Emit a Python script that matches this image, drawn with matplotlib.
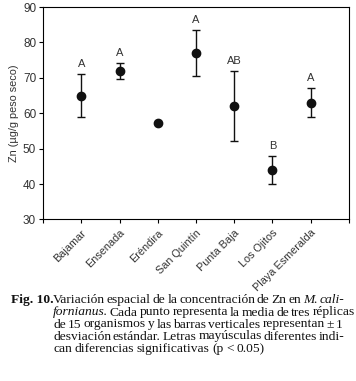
import matplotlib
matplotlib.use("Agg")
import matplotlib.pyplot as plt

sites = ["Bajamar", "Ensenada", "Eréndira", "San Quintín", "Punta Baja",
         "Los Ojitos", "Playa Esmeralda"]
zn_mean = [65.0, 72.0, 57.3, 77.0, 62.0, 44.0, 63.0]
zn_sd = [6.0, 2.2, 0.0, 6.5, 9.9, 4.0, 4.1]
letters = ["A", "A", "", "A", "AB", "B", "A"]

plt.rcParams["font.family"] = ["Liberation Sans", "DejaVu Sans"]

fig = plt.figure(figsize=(3.56, 3.81), dpi=100)
ax = fig.add_axes([0.121, 0.424, 0.859, 0.5575])

xs = list(range(1, len(sites) + 1))
ax.errorbar(xs, zn_mean, yerr=zn_sd, fmt="o", color="#111111", ms=6,
            capsize=3, elinewidth=1, capthick=1)
for x, m, s, lab in zip(xs, zn_mean, zn_sd, letters):
    if lab:
        ax.text(x, m + s + 1.4, lab, ha="center", va="bottom",
                fontsize=8, color="#333333")

ax.set_xlim(0, 8)
ax.set_ylim(30, 90)
ax.set_yticks(range(30, 91, 10))
ax.set_xticks(range(0, 9))
ax.set_xticklabels([""] + sites + [""], rotation=45, ha="right",
                   rotation_mode="anchor", fontsize=7.8, color="#333333")
ax.tick_params(axis="y", labelsize=8.5, labelcolor="#333333",
               length=3, width=0.8, pad=2)
ax.tick_params(axis="x", length=3, width=0.8, pad=3)
ax.set_ylabel("Zn (µg/g peso seco)", fontsize=7.8, color="#333333", labelpad=3)
for sp in ax.spines.values():
    sp.set_linewidth(0.8)

# caption, justified line by line
serif = "Liberation Serif"
cap_fs = 9.7
left_px, right_px = 53, 343
W, H = fig.get_size_inches() * fig.dpi
lines = [
    [("Variación espacial de la concentración de Zn en", "normal"),
     ("M. cali-", "italic")],
    [("fornianus.", "italic"),
     ("Cada punto representa la media de tres réplicas", "normal")],
    [("de 15 organismos y las barras verticales representan ± 1", "normal")],
    [("desviación estándar. Letras mayúsculas diferentes indi-", "normal")],
    [("can diferencias significativas (p < 0.05)", "normal")],
]
line_y = [300, 312.5, 324.5, 336.5, 349]

fig.text(11 / W, 1 - line_y[0] / H, "Fig. 10.", fontsize=cap_fs,
         family=serif, weight="bold", va="center", color="#111111")

renderer = fig.canvas.get_renderer()
for i, (segs, yy) in enumerate(zip(lines, line_y)):
    arts = []
    for txt, style in segs:
        for p in txt.split(" "):
            t = fig.text(0, 1 - yy / H, p, fontsize=cap_fs, family=serif,
                         style=style, va="center", color="#111111")
            arts.append(t)
    widths = [t.get_window_extent(renderer).width for t in arts]
    gap = 2.7
    if i < len(lines) - 1 and len(arts) > 1:
        gap = max(1.8, (right_px - left_px - sum(widths)) / (len(arts) - 1))
    x = left_px
    for t, wd in zip(arts, widths):
        t.set_x(x / W)
        x += wd + gap

fig.savefig("out.png", dpi=100)
